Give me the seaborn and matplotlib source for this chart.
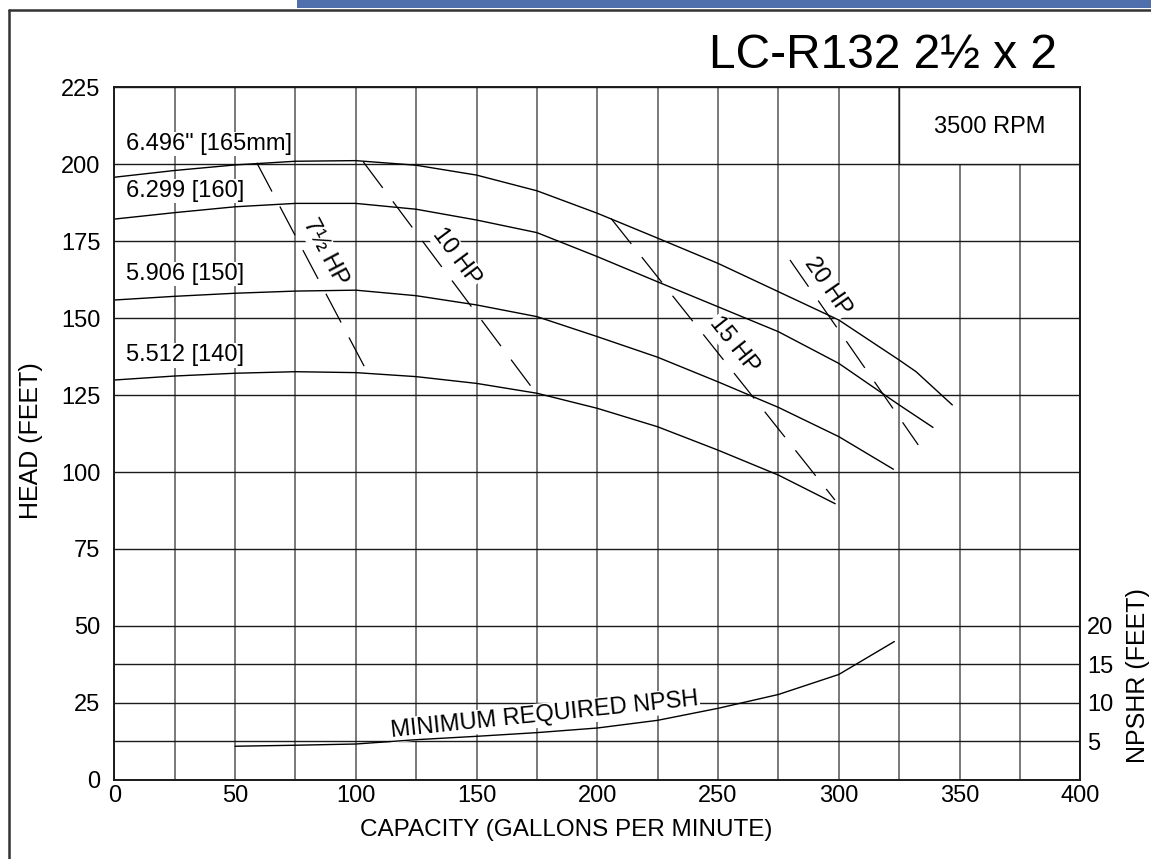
import numpy as np
import pandas as pd
import seaborn as sns
import matplotlib.pyplot as plt
from matplotlib.patches import Rectangle
from matplotlib.lines import Line2D
from matplotlib.ticker import FixedLocator

OUT_FILE = "out.png"
DPI = 100

# impeller diameter curves: head (ft) vs capacity (gpm)
DIA_LABELS = ['6.496" [165mm]', "6.299 [160]", "5.906 [150]", "5.512 [140]"]
DIA_LABEL_Y = [206.6, 191.4, 164.3, 137.9]

GPM_165 = [0, 25, 50, 75, 100, 125, 150, 175, 200, 225, 250, 275, 300, 325, 332, 347]
HEAD_165 = [195.8, 198.0, 199.8, 201.0, 201.2, 199.7, 196.5, 191.4, 184.1, 176.0,
            167.8, 158.6, 149.4, 136.4, 132.6, 121.8]

GPM_160 = [0, 25, 50, 75, 100, 125, 150, 175, 200, 225, 250, 275, 300, 325, 339]
HEAD_160 = [182.2, 184.3, 186.2, 187.3, 187.3, 185.4, 181.9, 177.8, 170.0, 161.8,
            153.7, 145.6, 135.3, 121.8, 114.5]

GPM_150 = [0, 25, 50, 75, 100, 125, 150, 175, 200, 225, 250, 275, 300, 322.6]
HEAD_150 = [155.9, 157.1, 158.1, 158.8, 159.1, 157.3, 154.3, 150.5, 144.0, 137.3,
            129.3, 121.0, 111.5, 100.9]

GPM_140 = [0, 25, 50, 75, 100, 125, 150, 175, 200, 225, 250, 275, 298.5]
HEAD_140 = [129.9, 131.2, 132.1, 132.6, 132.3, 131.0, 128.8, 125.6, 120.7, 114.7,
            107.1, 99.0, 89.7]

# horsepower lines (start / end points)
HP_LABELS = ["7\u00bd HP", "10 HP", "15 HP", "20 HP"]
HP_GPM = [(59.0, 105.2), (103.1, 174.2), (205.7, 298.4), (279.8, 332.9)]
HP_HEAD = [(200.5, 131.8), (200.8, 126.1), (182.4, 90.9), (168.9, 108.8)]
HP_LABEL_GPM = [87.3, 141.8, 256.6, 295.2]
HP_LABEL_HEAD = [171.4, 170.0, 141.3, 160.2]

# minimum required NPSH (ft, right axis)
NPSH_GPM = [50, 75, 100, 125, 150, 175, 200, 225, 250, 275, 300, 323]
NPSHR_FT = [4.35, 4.48, 4.64, 5.2, 5.64, 6.12, 6.72, 7.72, 9.28, 11.08, 13.68, 17.96]
NPSH_LABEL_POS = (178.2, 8.4)

X_MAJOR = list(range(0, 401, 50))
X_MINOR = list(range(25, 400, 50))
Y_MAJOR = list(range(0, 226, 25))
Y_MINOR = [12.5, 37.5]
NPSHR_TICKS = [5, 10, 15, 20]
NPSHR_MAX = 90

RPM_TEXT = "3500 RPM"
RPM_POS = (362.6, 212.2)
RPM_BOX = (325, 200, 75, 25)
TITLE = "LC-R132 2\u00bd x 2"

W, H = 1151, 859
AX_RECT = [114.3 / W, 1 - 779.7 / H, 966.0 / W, 692.3 / H]


def screen_angle(ax, x0, y0, x1, y1):
    p0 = ax.transData.transform((x0, y0))
    p1 = ax.transData.transform((x1, y1))
    return np.degrees(np.arctan2(p1[1] - p0[1], p1[0] - p0[0]))


def main():
    sns.set_style("white")
    plt.rcParams["font.family"] = ["Liberation Sans", "DejaVu Sans"]
    plt.rcParams["text.color"] = "black"
    plt.rcParams["axes.labelcolor"] = "black"
    plt.rcParams["xtick.color"] = "black"
    plt.rcParams["ytick.color"] = "black"

    curves = pd.concat([
        pd.DataFrame({"dia": lab, "gpm": g, "head": h})
        for lab, g, h in zip(DIA_LABELS,
                             [GPM_165, GPM_160, GPM_150, GPM_140],
                             [HEAD_165, HEAD_160, HEAD_150, HEAD_140])
    ])
    hp = pd.concat([
        pd.DataFrame({"hp": lab, "gpm": list(g), "head": list(h)})
        for lab, g, h in zip(HP_LABELS, HP_GPM, HP_HEAD)
    ])
    npsh = pd.DataFrame({"gpm": NPSH_GPM, "npshr": NPSHR_FT})

    fig = plt.figure(figsize=(W / DPI, H / DPI), dpi=DPI)
    ax = fig.add_axes(AX_RECT)
    ax.set_xlim(0, 400)
    ax.set_ylim(0, 225)
    ax.set_axisbelow(True)

    ax.xaxis.set_major_locator(FixedLocator(X_MAJOR))
    ax.xaxis.set_minor_locator(FixedLocator(X_MINOR))
    ax.yaxis.set_major_locator(FixedLocator(Y_MAJOR))
    ax.yaxis.set_minor_locator(FixedLocator(Y_MINOR))
    ax.grid(True, axis="x", which="both", color="#555555", lw=1.1)
    ax.grid(True, axis="y", which="both", color="#1a1a1a", lw=1.0)
    ax.tick_params(which="both", length=0, labelsize=17)
    ax.tick_params(axis="y", pad=10)
    ax.tick_params(axis="x", pad=4)
    for s in ax.spines.values():
        s.set_color("#1a1a1a")
        s.set_linewidth(1.2)

    # rpm box masks the grid in the top-right cell
    ax.add_patch(Rectangle(RPM_BOX[:2], RPM_BOX[2], RPM_BOX[3], facecolor="white",
                           edgecolor="#1a1a1a", lw=1.0, zorder=1))
    ax.text(*RPM_POS, RPM_TEXT, ha="center", va="center", fontsize=17, zorder=1.5)

    sns.lineplot(data=curves, x="gpm", y="head", units="dia", estimator=None,
                 sort=False, color="black", lw=1.0, ax=ax)
    sns.lineplot(data=hp, x="gpm", y="head", units="hp", estimator=None,
                 sort=False, color="black", lw=0.9, linestyle=(0, (26, 13.5)), ax=ax)

    box = dict(boxstyle="square,pad=0.05", fc="white", ec="none")
    for lab, y in zip(DIA_LABELS, DIA_LABEL_Y):
        ax.text(4.9, y, lab, ha="left", va="center", fontsize=17, bbox=box, zorder=1.5)

    for lab, g, h, lx, ly in zip(HP_LABELS, HP_GPM, HP_HEAD, HP_LABEL_GPM, HP_LABEL_HEAD):
        ang = screen_angle(ax, g[0], h[0], g[1], h[1])
        ax.text(lx, ly, lab, ha="center", va="center", rotation=ang,
                rotation_mode="anchor", fontsize=17, bbox=box, zorder=1.5)

    ax.set_xlabel("")
    ax.set_ylabel("")
    ax.text(0.4676, -0.0727, "CAPACITY (GALLONS PER MINUTE)", transform=ax.transAxes,
            ha="center", va="center", fontsize=17.5)
    ax.text(-0.0862, 0.49, "HEAD (FEET)", transform=ax.transAxes, rotation=90,
            ha="center", va="center", fontsize=18)

    ax2 = ax.twinx()
    ax2.set_position(AX_RECT)
    ax2.set_ylim(0, NPSHR_MAX)
    ax2.set_yticks(NPSHR_TICKS)
    ax2.tick_params(length=0, labelsize=17, pad=5)
    ax2.grid(False)
    for s in ax2.spines.values():
        s.set_color("#1a1a1a")
        s.set_linewidth(1.2)
    sns.lineplot(data=npsh, x="gpm", y="npshr", estimator=None, sort=False,
                 color="black", lw=1.0, ax=ax2)
    ax2.set_ylabel("")
    ang = screen_angle(ax2, 125, 5.2, 250, 9.28)
    ax2.text(*NPSH_LABEL_POS, "MINIMUM REQUIRED NPSH", ha="center", va="center",
             rotation=ang, rotation_mode="anchor", fontsize=17, bbox=box, zorder=1.5)
    ax2.text(1.0595, 0.15, "NPSHR (FEET)", transform=ax2.transAxes, rotation=90,
             ha="center", va="center", fontsize=18)

    fig.text(1057 / W, 1 - 68 / H, TITLE, ha="right", va="baseline", fontsize=34.5)

    # page frame and blue header bar
    fig.add_artist(Rectangle((297 / W, 1 - 8 / H), 1, 8 / H, facecolor="#5070ad",
                             edgecolor="none", transform=fig.transFigure))
    fig.add_artist(Line2D([9 / W, 9 / W], [0, 1 - 10 / H], color="#333333", lw=1.8))
    fig.add_artist(Line2D([9 / W, 1], [1 - 10 / H, 1 - 10 / H], color="#333333", lw=1.8))

    fig.savefig(OUT_FILE, dpi=DPI)


if __name__ == "__main__":
    main()
